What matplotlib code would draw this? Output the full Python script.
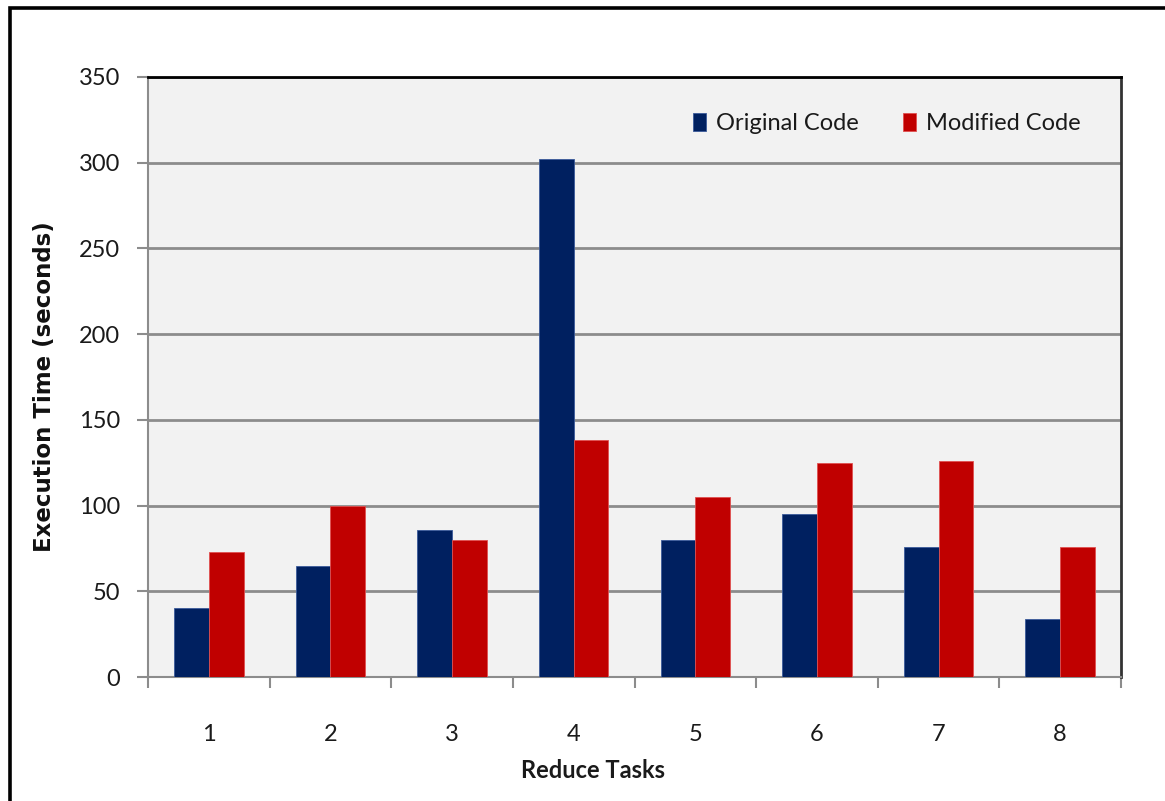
import numpy as np
import matplotlib
matplotlib.use("Agg")
import matplotlib.pyplot as plt
from matplotlib.patches import Rectangle

# Execution time per reduce task (seconds)
tasks = ["1", "2", "3", "4", "5", "6", "7", "8"]
original_code = [40, 65, 86, 302, 80, 95, 76, 34]
modified_code = [73, 100, 80, 138, 105, 125, 126, 76]
series_names = ["Original Code", "Modified Code"]
y_ticks = [0, 50, 100, 150, 200, 250, 300, 350]

BLUE = "#002060"
RED = "#c00000"
W, H = 1165, 801

fig = plt.figure(figsize=(W / 100, H / 100), dpi=100)
fig.patch.set_facecolor("white")

# outer chart frame
fig.add_artist(Rectangle((10 / W, 1 - 1200 / H), 1400 / W, (1200 - 8) / H,
                         transform=fig.transFigure, fill=False,
                         edgecolor="black", linewidth=2.6))

ax = fig.add_axes([148 / W, 1 - 677 / H, (1121 - 148) / W, (677 - 77) / H])
ax.set_facecolor("#f2f2f2")

x = np.arange(len(tasks))
bw = 1 / 3.5
ax.bar(x - bw / 2, original_code, bw, color=BLUE, edgecolor="#3a5a9a",
       linewidth=0.6, label=series_names[0], zorder=3)
ax.bar(x + bw / 2, modified_code, bw, color=RED, edgecolor="#e05050",
       linewidth=0.6, label=series_names[1], zorder=3)

ax.set_xlim(-0.5, len(tasks) - 0.5)
ax.set_ylim(0, 350)
ax.set_yticks(y_ticks)
ax.set_yticklabels([str(v) for v in y_ticks])
ax.yaxis.grid(True, color="#8c8c8c", linewidth=2.0, zorder=0)
ax.set_axisbelow(True)

# category labels centred, tick marks on category boundaries
ax.set_xticks(x)
ax.set_xticklabels(tasks)
ax.set_xticks(np.arange(len(tasks) + 1) - 0.5, minor=True)
ax.tick_params(axis="x", which="major", length=0, pad=34)
ax.tick_params(axis="x", which="minor", length=8, width=1.5, color="#8c8c8c",
               direction="out")
ax.tick_params(axis="y", length=8, width=1.5, color="#8c8c8c", pad=12)

for lab in ax.get_xticklabels() + ax.get_yticklabels():
    lab.set_fontfamily("Lato")
    lab.set_fontsize(17)
    lab.set_color("#1a1a1a")

for side in ("left", "bottom"):
    ax.spines[side].set_color("#8c8c8c")
    ax.spines[side].set_linewidth(1.5)
ax.spines["top"].set_color("black")
ax.spines["top"].set_linewidth(2.0)
ax.spines["right"].set_color("#333333")
ax.spines["right"].set_linewidth(2.0)

fig.text(593 / W, 1 - 770 / H, "Reduce Tasks", ha="center", va="center",
         fontfamily="Lato", fontweight="bold", fontsize=17, color="#1a1a1a")
fig.text(45 / W, 1 - 387 / H, "Execution Time (seconds)", ha="center",
         va="center", rotation=90, fontfamily="DejaVu Sans",
         fontweight="bold", fontsize=16.5, color="#111111")

leg = ax.legend(loc="upper right", bbox_to_anchor=(0.98, 0.976), ncol=2,
                frameon=False, prop=dict(family="Lato", size=17),
                handlelength=0.55, handleheight=0.8, handletextpad=0.4,
                columnspacing=1.9)
for t in leg.get_texts():
    t.set_color("#1a1a1a")

fig.savefig("out.png", dpi=100)
